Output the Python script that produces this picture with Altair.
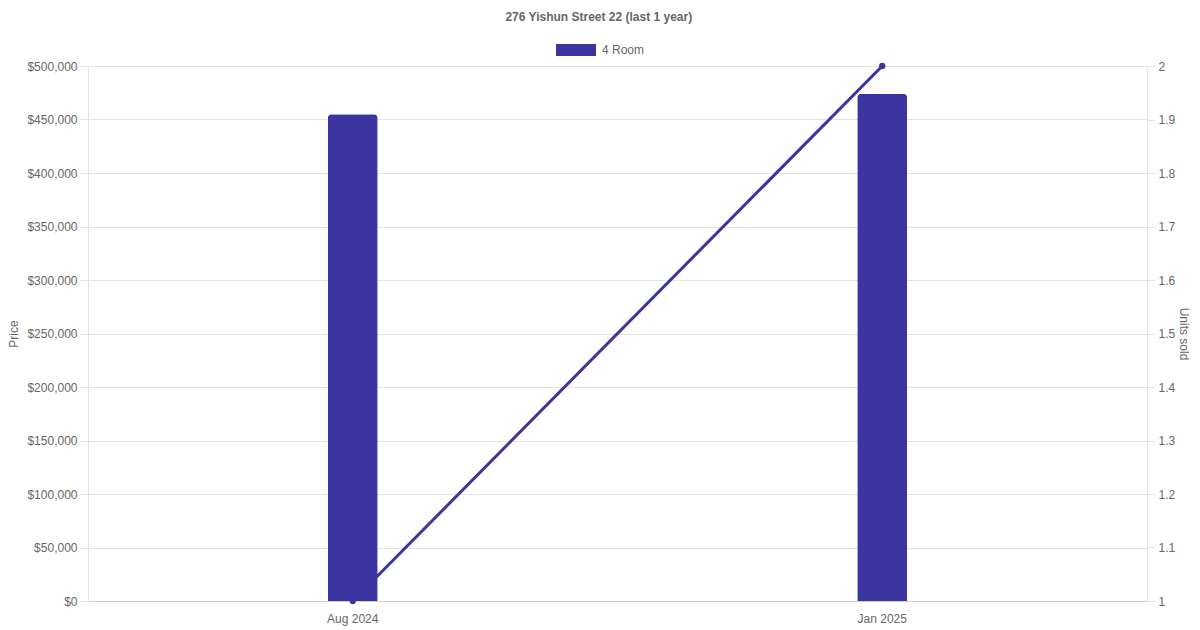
import altair as alt
import pandas as pd

months = ["Aug 2024", "Jan 2025"]
prices = [455000, 474000]
units_sold = [1, 2]
series = ["4 Room", "4 Room"]

df = pd.DataFrame({"month": months, "price": prices, "units": units_sold, "series": series})

COLOR = "#3a35a0"
FONT = "Liberation Sans"
TXT = "#666666"
GRID = "#e5e5e5"

x_enc = alt.X("month:N", sort=months,
              scale=alt.Scale(paddingInner=0, paddingOuter=0),
              axis=alt.Axis(title=None, labelAngle=0, labelColor=TXT, labelFontSize=12,
                            labelFont=FONT, ticks=False, grid=False, domainColor="#cfcfcf",
                            labelPadding=12))

bars = alt.Chart(df).mark_bar(size=50, cornerRadiusTopLeft=4, cornerRadiusTopRight=4).encode(
    x=x_enc,
    y=alt.Y("price:Q", scale=alt.Scale(domain=[0, 500000], nice=False),
            axis=alt.Axis(title="Price", format="$,.0f",
                          values=list(range(0, 500001, 50000)), labelOverlap=False,
                          labelColor=TXT, labelFontSize=12, labelFont=FONT,
                          titleColor=TXT, titleFontSize=12, titleFont=FONT, titleFontWeight="normal",
                          titlePadding=6,
                          gridColor=GRID, domainColor=GRID, tickColor=GRID, tickSize=8,
                          labelPadding=3)),
    color=alt.Color("series:N", scale=alt.Scale(range=[COLOR]),
                    legend=alt.Legend(title=None, orient="none", legendX=468, legendY=-36,
                                      symbolType="M-1,-0.3H1V0.3H-1Z", symbolSize=1600,
                                      symbolStrokeWidth=0, symbolOpacity=1,
                                      labelColor=TXT, labelFontSize=12, labelFont=FONT,
                                      labelOffset=6, padding=0)),
)

line = alt.Chart(df).mark_line(color=COLOR, strokeWidth=3, point=alt.OverlayMarkDef(color=COLOR, size=40, filled=True, opacity=1)).encode(
    x=alt.X("month:N", sort=months),
    y=alt.Y("units:Q", scale=alt.Scale(domain=[1, 2], nice=False),
            axis=alt.Axis(title="Units sold", orient="right", format="~g",
                          values=[1, 1.1, 1.2, 1.3, 1.4, 1.5, 1.6, 1.7, 1.8, 1.9, 2], labelOverlap=False,
                          labelColor=TXT, labelFontSize=12, labelFont=FONT,
                          titleColor=TXT, titleFontSize=12, titleFont=FONT, titleFontWeight="normal",
                          titleAngle=90, titlePadding=2,
                          grid=False, domainColor=GRID, tickColor=GRID, tickSize=8,
                          labelPadding=3)),
)

chart = alt.layer(bars, line).resolve_scale(y="independent").properties(
    width=1059, height=535,
    title=alt.TitleParams("276 Yishun Street 22 (last 1 year)", font=FONT, fontSize=12,
                          fontWeight="bold", color=TXT, anchor="middle", frame="bounds", offset=6),
    autosize=alt.AutoSizeParams(type="none"),
    padding={"left": 80, "top": 58, "right": 45, "bottom": 25},
).configure_view(stroke=None)

chart.save("out.html", embed_options={"renderer": "svg", "actions": False})
